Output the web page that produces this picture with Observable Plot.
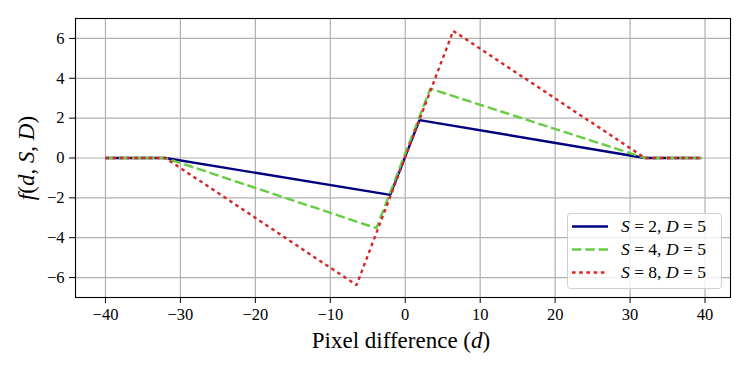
<!DOCTYPE html>
<html>
<head>
<meta charset="utf-8">
<script src="https://cdn.jsdelivr.net/npm/d3@7"></script>
<script src="https://cdn.jsdelivr.net/npm/@observablehq/plot@0.6"></script>
<style>
  html, body { margin: 0; padding: 0; background: #fff; }
  #chart svg { display: block; }
  #chart svg text { font-family: 'Liberation Serif', 'DejaVu Serif', serif; }
</style>
</head>
<body>
<div id="chart"></div>
<script>
// Data
const seriesNames = ["S = 2, D = 5", "S = 4, D = 5", "S = 8, D = 5"];
const sValues = [2, 4, 8];
const dS2 = [-40, -32, -2.0, 1.9, 32, 39.5];
const fS2 = [0, 0, -1.85, 1.9, 0, 0];
const dS4 = [-40, -32, -3.85, 3.35, 32, 39.5];
const fS4 = [0, 0, -3.52, 3.48, 0, 0];
const dS8 = [-40, -32, -6.5, 6.4, 32, 39.5];
const fS8 = [0, 0, -6.38, 6.38, 0, 0];
const xTicks = [-40, -30, -20, -10, 0, 10, 20, 30, 40];
const yTicks = [-6, -4, -2, 0, 2, 4, 6];

const colors = ["#000080", "#66cc44", "#d62728"];
const dashes = [null, "9.5,3.8", "3.6,3.6"];

const rows = (ds, fs, k) => ds.map((d, i) => ({d, f: fs[i], k}));
const data = [rows(dS2, fS2, 0), rows(dS4, fS4, 1), rows(dS8, fS8, 2)];

const font = "'Liberation Serif', 'DejaVu Serif', serif";

const plot = Plot.plot({
  width: 748,
  height: 366,
  marginLeft: 75,
  marginRight: 18,
  marginTop: 18,
  marginBottom: 69,
  style: {fontFamily: font, fontSize: "16px", color: "#000", background: "#fff"},
  x: {domain: [-44, 43.4]},
  y: {domain: [-7, 7]},
  marks: [
    Plot.gridX(xTicks, {stroke: "#b0b0b0", strokeOpacity: 1, strokeWidth: 1.2}),
    Plot.gridY(yTicks, {stroke: "#b0b0b0", strokeOpacity: 1, strokeWidth: 1.2}),
    Plot.axisX(xTicks, {tickSize: 6, tickPadding: 5, label: null, fontSize: 16.5, fontFamily: font}),
    Plot.axisY(yTicks, {tickSize: 6, tickPadding: 5, label: null, fontSize: 16.5, fontFamily: font}),
    ...data.map((rs, k) => Plot.line(rs, {
      x: "d", y: "f",
      stroke: colors[k],
      strokeWidth: 2.4,
      strokeDasharray: dashes[k],
      strokeLinecap: "butt",
      strokeLinejoin: "miter"
    })),
    Plot.frame({stroke: "#000", strokeWidth: 1.1})
  ]
});

document.getElementById("chart").appendChild(plot);

const svg = d3.select(plot);

// X axis label: Pixel difference (d)
const xl = svg.append("text")
  .attr("x", 401).attr("y", 348)
  .attr("text-anchor", "middle")
  .style("font-family", font).style("font-size", "23px").attr("fill", "#000");
xl.append("tspan").text("Pixel difference (");
xl.append("tspan").attr("font-style", "italic").text("d");
xl.append("tspan").text(")");

// Y axis label: f(d, S, D)
const yl = svg.append("text")
  .attr("transform", "translate(34,158) rotate(-90)")
  .attr("text-anchor", "middle")
  .style("font-family", font).style("font-size", "23px").attr("fill", "#000");
yl.append("tspan").attr("font-style", "italic").text("f");
yl.append("tspan").text("(");
yl.append("tspan").attr("font-style", "italic").text("d");
yl.append("tspan").text(", ");
yl.append("tspan").attr("font-style", "italic").text("S");
yl.append("tspan").text(", ");
yl.append("tspan").attr("font-style", "italic").text("D");
yl.append("tspan").text(")");

// Legend
const lg = svg.append("g");
lg.append("rect")
  .attr("x", 567.5).attr("y", 213.5).attr("width", 154).attr("height", 75)
  .attr("rx", 3).attr("fill", "#fff").attr("fill-opacity", 0.8)
  .attr("stroke", "#d0d0d0").attr("stroke-width", 1);
sValues.forEach((s, k) => {
  const yy = 226.5 + k * 23;
  lg.append("line")
    .attr("x1", 572).attr("x2", 608).attr("y1", yy).attr("y2", yy)
    .attr("stroke", colors[k]).attr("stroke-width", 2.4)
    .attr("stroke-dasharray", dashes[k]);
  const t = lg.append("text")
    .attr("x", 621).attr("y", yy + 5.5)
    .attr("text-anchor", "start")
    .style("font-family", font).style("font-size", "17.5px").attr("fill", "#000");
  t.append("tspan").attr("font-style", "italic").text("S");
  t.append("tspan").text(" = " + s + ", ");
  t.append("tspan").attr("font-style", "italic").text("D");
  t.append("tspan").text(" = 5");
});
</script>
</body>
</html>
